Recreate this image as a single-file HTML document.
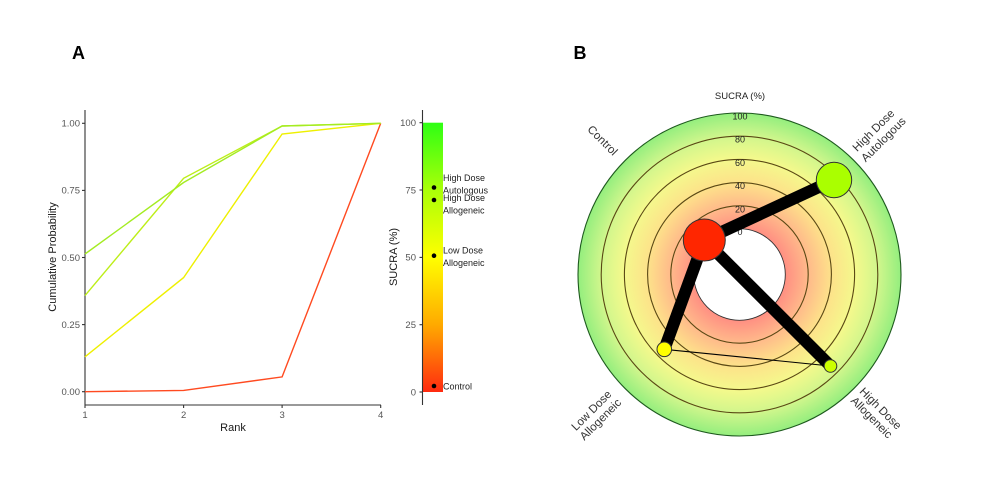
<!DOCTYPE html>
<html><head><meta charset="utf-8"><style>
html,body{margin:0;padding:0;background:#fff;}
svg{display:block;font-family:"Liberation Sans",Arial,sans-serif;}
</style></head><body>
<svg width="986" height="503" viewBox="0 0 986 503" xmlns="http://www.w3.org/2000/svg">
<defs>
<linearGradient id="bar" x1="0" y1="0" x2="0" y2="1">
<stop offset="0" stop-color="#2eff14"/>
<stop offset="0.25" stop-color="#aaff08"/>
<stop offset="0.5" stop-color="#ffff00"/>
<stop offset="0.75" stop-color="#ffaa00"/>
<stop offset="1" stop-color="#ff2a10"/>
</linearGradient>
<radialGradient id="rad" gradientUnits="userSpaceOnUse" cx="739.5" cy="274.5" r="161.5">
<stop offset="0" stop-color="#ff8a80"/>
<stop offset="0.28" stop-color="#ff8e82"/>
<stop offset="0.42" stop-color="#ffb88a"/>
<stop offset="0.57" stop-color="#fde28a"/>
<stop offset="0.72" stop-color="#f4f98c"/>
<stop offset="0.86" stop-color="#d0f68c"/>
<stop offset="1" stop-color="#94ee7e"/>
</radialGradient>
</defs>
<rect width="986" height="503" fill="#fff"/>

<!-- Panel labels -->
<text x="78.5" y="59" font-size="18" font-weight="bold" text-anchor="middle" fill="#000">A</text>
<text x="580" y="59" font-size="18" font-weight="bold" text-anchor="middle" fill="#000">B</text>

<!-- Left plot axes -->
<g stroke="#333" stroke-width="1.1" fill="none">
<line x1="85" y1="110" x2="85" y2="405"/>
<line x1="85" y1="405" x2="381" y2="405"/>
<line x1="82" y1="123.3" x2="85" y2="123.3"/>
<line x1="82" y1="190.4" x2="85" y2="190.4"/>
<line x1="82" y1="257.5" x2="85" y2="257.5"/>
<line x1="82" y1="324.6" x2="85" y2="324.6"/>
<line x1="82" y1="391.7" x2="85" y2="391.7"/>
<line x1="85" y1="405" x2="85" y2="408"/>
<line x1="183.6" y1="405" x2="183.6" y2="408"/>
<line x1="282.1" y1="405" x2="282.1" y2="408"/>
<line x1="380.7" y1="405" x2="380.7" y2="408"/>
</g>
<g font-size="9.5" fill="#555" text-anchor="end">
<text x="80" y="126.6">1.00</text>
<text x="80" y="193.7">0.75</text>
<text x="80" y="260.8">0.50</text>
<text x="80" y="327.9">0.25</text>
<text x="80" y="395">0.00</text>
</g>
<g font-size="9.5" fill="#555" text-anchor="middle">
<text x="85" y="418">1</text>
<text x="183.6" y="418">2</text>
<text x="282.1" y="418">3</text>
<text x="380.7" y="418">4</text>
</g>
<text x="233" y="431" font-size="11" fill="#1a1a1a" text-anchor="middle">Rank</text>
<text transform="translate(56,257) rotate(-90)" font-size="11" fill="#1a1a1a" text-anchor="middle">Cumulative Probability</text>

<!-- Lines -->
<g fill="none" stroke-width="1.4">
<polyline stroke="#ff4a20" points="85,391.7 183.6,390.4 282.1,376.9 380.7,123.3"/>
<polyline stroke="#eef000" points="85,356.8 183.6,277.6 282.1,134 380.7,123.3"/>
<polyline stroke="#bdee18" points="85,295.6 183.6,178.3 282.1,126 380.7,123.3"/>
<polyline stroke="#a4ec22" points="85,254 183.6,182.5 282.1,126 380.7,123.3"/>
</g>

<!-- SUCRA bar -->
<rect x="423" y="122.7" width="20" height="269.3" fill="url(#bar)"/>
<g stroke="#333" stroke-width="1.1">
<line x1="422.5" y1="110" x2="422.5" y2="405"/>
<line x1="419.5" y1="122.7" x2="422.5" y2="122.7"/>
<line x1="419.5" y1="190" x2="422.5" y2="190"/>
<line x1="419.5" y1="257.4" x2="422.5" y2="257.4"/>
<line x1="419.5" y1="324.7" x2="422.5" y2="324.7"/>
<line x1="419.5" y1="392" x2="422.5" y2="392"/>
</g>
<g font-size="9.5" fill="#555" text-anchor="end">
<text x="416" y="126">100</text>
<text x="416" y="193.3">75</text>
<text x="416" y="260.7">50</text>
<text x="416" y="328">25</text>
<text x="416" y="395.3">0</text>
</g>
<text transform="translate(397,257) rotate(-90)" font-size="11" fill="#1a1a1a" text-anchor="middle">SUCRA (%)</text>
<g fill="#000">
<circle cx="434" cy="187.5" r="2.3"/>
<circle cx="434" cy="200" r="2.3"/>
<circle cx="434" cy="255.7" r="2.3"/>
<circle cx="434" cy="386" r="2.3"/>
</g>
<g font-size="9" fill="#222">
<text x="443" y="181">High Dose</text>
<text x="443" y="193.5">Autologous</text>
<text x="443" y="201">High Dose</text>
<text x="443" y="213.5">Allogeneic</text>
<text x="443" y="253.5">Low Dose</text>
<text x="443" y="266">Allogeneic</text>
<text x="443" y="389.5">Control</text>
</g>

<!-- Radial plot -->
<circle cx="739.5" cy="274.5" r="161.5" fill="url(#rad)" stroke="#1e5a1e" stroke-width="1.1"/>
<g fill="none" stroke="#5a4814" stroke-width="1.1">
<circle cx="739.5" cy="274.5" r="138.3"/>
<circle cx="739.5" cy="274.5" r="115.1"/>
<circle cx="739.5" cy="274.5" r="91.9"/>
<circle cx="739.5" cy="274.5" r="68.7"/>
</g>
<circle cx="739.5" cy="274.5" r="45.8" fill="#fff" stroke="#333" stroke-width="0.9"/>
<g font-size="9" fill="#222" text-anchor="middle">
<text x="740" y="119.5">100</text>
<text x="740" y="142.7">80</text>
<text x="740" y="165.9">60</text>
<text x="740" y="189.1">40</text>
<text x="740" y="212.3">20</text>
<text x="740" y="235">0</text>
</g>
<text x="740" y="99" font-size="9.5" fill="#222" text-anchor="middle">SUCRA (%)</text>

<!-- edges -->
<g stroke="#000" stroke-linecap="butt">
<line x1="664.3" y1="349.3" x2="830.5" y2="366" stroke-width="1.1"/>
<line x1="704.3" y1="240" x2="834" y2="180" stroke-width="12"/>
<line x1="704.3" y1="240" x2="664.3" y2="349.3" stroke-width="12"/>
<line x1="704.3" y1="240" x2="830.5" y2="366" stroke-width="12"/>
</g>
<g stroke="#333" stroke-width="1">
<circle cx="704.3" cy="240" r="21" fill="#ff2600"/>
<circle cx="834" cy="180" r="17.7" fill="#aaff00"/>
<circle cx="664.3" cy="349.3" r="7.3" fill="#ffff00"/>
<circle cx="830.5" cy="366" r="6.3" fill="#ccff00"/>
</g>

<!-- radial category labels -->
<g font-size="11.5" fill="#333" text-anchor="middle" dominant-baseline="central">
<text transform="translate(602,141) rotate(45)">Control</text>
<text transform="translate(874,131) rotate(-45)">High Dose</text>
<text transform="translate(884,140) rotate(-45)">Autologous</text>
<text transform="translate(592,411) rotate(-45)">Low Dose</text>
<text transform="translate(601,420) rotate(-45)">Allogeneic</text>
<text transform="translate(880,409) rotate(45)">High Dose</text>
<text transform="translate(871,418) rotate(45)">Allogeneic</text>
</g>
</svg>
</body></html>
